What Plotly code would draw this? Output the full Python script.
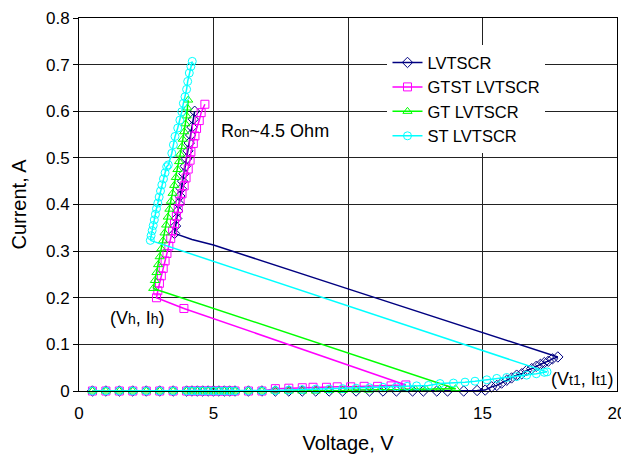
import plotly.graph_objects as go

# ---------------- data ----------------
common_v = [0.5, 1.0, 1.5, 2.0, 2.5, 3.0, 3.5, 4.0, 4.2, 4.4, 4.6, 4.8, 5.0, 5.2, 5.4, 5.6, 5.8, 6.3, 6.8]
common_i = [0.0] * len(common_v)

# LVTSCR
lv_leak_v = common_v + [7.3, 7.8, 8.3, 8.8, 9.3, 9.8, 10.3, 10.8, 11.3, 11.8, 12.4, 12.8, 13.3, 13.7, 14.3, 14.8,
                        15.1, 15.34, 15.53, 15.71, 15.9, 16.08, 16.27, 16.46, 16.64, 16.83, 17.0, 17.15, 17.3, 17.45, 17.6, 17.8]
lv_leak_i = common_i + [0.0, 0.0, 0.0, 0.0, 0.0, 0.0, 0.0, 0.0, 0.0, 0.0, 0.0, 0.0, 0.0, 0.0, 0.0, 0.001,
                        0.002, 0.009, 0.012, 0.017, 0.023, 0.028, 0.034, 0.037, 0.044, 0.048, 0.053, 0.057, 0.061, 0.064, 0.069, 0.073]
lv_snap_v = [17.8, 15.0, 10.0, 5.0, 4.2, 3.55]
lv_snap_i = [0.073, 0.125, 0.219, 0.313, 0.325, 0.338]
lv_on_v = [3.55, 3.59, 3.63, 3.67, 3.71, 3.75, 3.80, 3.85, 3.90, 3.95, 4.00, 4.05, 4.10, 4.15, 4.20, 4.25, 4.30]
lv_on_i = [0.338, 0.354, 0.370, 0.386, 0.402, 0.418, 0.434, 0.450, 0.466, 0.482, 0.498, 0.515, 0.532, 0.549, 0.566, 0.583, 0.600]

# GTST LVTSCR
gtst_leak_v = common_v + [7.3, 7.8, 8.3, 8.7, 9.2, 9.6, 10.1, 10.6, 11.1, 11.6, 12.15]
gtst_leak_i = common_i + [0.005, 0.006, 0.007, 0.008, 0.008, 0.009, 0.009, 0.010, 0.010, 0.011, 0.013]
gtst_snap_v = [12.15, 3.9]
gtst_snap_i = [0.013, 0.177]
gtst_on_v = [3.9, 2.88, 2.93, 2.99, 3.06, 3.13, 3.20, 3.27, 3.34, 3.41, 3.48, 3.55, 3.62, 3.69, 3.76, 3.83, 3.91, 3.98, 4.06, 4.13,
             4.16, 4.25, 4.31, 4.37, 4.47, 4.54, 4.68]
gtst_on_i = [0.177, 0.200, 0.215, 0.231, 0.247, 0.263, 0.279, 0.295, 0.311, 0.327, 0.343, 0.359, 0.375, 0.391, 0.407, 0.423, 0.440, 0.457, 0.476, 0.495,
             0.513, 0.531, 0.547, 0.563, 0.580, 0.597, 0.615]

# GT LVTSCR
gt_leak_v = common_v + [7.3, 7.8, 8.3, 8.8, 9.3, 9.8, 10.3, 10.76, 11.2, 11.6, 12.06, 12.5, 12.9, 13.4, 14.0]
gt_leak_i = common_i + [0.0, 0.0, 0.0, 0.0, 0.001, 0.001, 0.002, 0.002, 0.003, 0.003, 0.003, 0.004, 0.004, 0.004, 0.005]
gt_snap_v = [14.0, 2.76]
gt_snap_i = [0.005, 0.220]
gt_on_v = [2.76, 2.82, 2.88, 2.94, 3.00, 3.06, 3.12, 3.18, 3.24, 3.30, 3.36, 3.42, 3.48, 3.54, 3.60, 3.66, 3.72,
           3.76, 3.82, 3.86, 3.91, 3.96, 4.00, 4.03, 4.06]
gt_on_i = [0.220, 0.237, 0.254, 0.271, 0.288, 0.305, 0.322, 0.339, 0.356, 0.373, 0.390, 0.407, 0.424, 0.441, 0.458, 0.475, 0.492,
           0.508, 0.524, 0.540, 0.556, 0.573, 0.590, 0.607, 0.624]

# ST LVTSCR
st_leak_v = common_v + [7.3, 7.8, 8.3, 8.8, 9.3, 9.8, 10.3, 10.8, 11.3, 11.8, 12.2, 12.55, 12.99, 13.42, 13.92, 14.35, 14.72,
                        15.16, 15.53, 15.9, 16.27, 16.64, 17.0, 17.3, 17.4]
st_leak_i = common_i + [0.001, 0.002, 0.003, 0.004, 0.004, 0.005, 0.006, 0.007, 0.008, 0.009, 0.010, 0.011, 0.012, 0.016, 0.017, 0.019, 0.021,
                        0.024, 0.027, 0.029, 0.031, 0.034, 0.037, 0.040, 0.041]
st_snap_v = [17.4, 2.65]
st_snap_i = [0.041, 0.323]
st_on_v = [2.65, 2.68, 2.72, 2.76, 2.80, 2.84, 2.88, 2.93, 2.98, 3.03, 3.08, 3.14, 3.20, 3.26,
           3.32, 3.45, 3.51, 3.57, 3.67, 3.75, 3.82, 3.88, 3.94, 4.00, 4.04, 4.10, 4.16, 4.21]
st_on_i = [0.323, 0.333, 0.344, 0.355, 0.367, 0.379, 0.391, 0.403, 0.416, 0.429, 0.442, 0.455, 0.468, 0.481,
           0.485, 0.510, 0.528, 0.546, 0.564, 0.581, 0.599, 0.617, 0.631, 0.647, 0.664, 0.682, 0.696, 0.707]

series_names = ["LVTSCR", "GTST LVTSCR", "GT LVTSCR", "ST LVTSCR"]
x_ticks = [0, 5, 10, 15, 20]
y_ticks = [0, 0.1, 0.2, 0.3, 0.4, 0.5, 0.6, 0.7, 0.8]

# ---------------- figure ----------------
FONT = "Liberation Sans, Arial, sans-serif"
series = [
    (series_names[0], "#000080", "diamond-open", lv_leak_v, lv_leak_i, lv_snap_v, lv_snap_i, lv_on_v, lv_on_i),
    (series_names[1], "#FF00FF", "square-open", gtst_leak_v, gtst_leak_i, gtst_snap_v, gtst_snap_i, gtst_on_v, gtst_on_i),
    (series_names[2], "#00FF00", "triangle-up-open", gt_leak_v, gt_leak_i, gt_snap_v, gt_snap_i, gt_on_v, gt_on_i),
    (series_names[3], "#00FFFF", "circle-open", st_leak_v, st_leak_i, st_snap_v, st_snap_i, st_on_v, st_on_i),
]

fig = go.Figure()
for name, color, sym, lvx, lvy, sx, sy, ox, oy in series:
    mk = dict(symbol=sym, size=8, color=color, line=dict(color=color, width=1))
    fig.add_trace(go.Scatter(x=lvx, y=lvy, mode="lines+markers", name=name, legendgroup=name,
                             line=dict(color=color, width=1.5), marker=mk, cliponaxis=False))
    fig.add_trace(go.Scatter(x=sx, y=sy, mode="lines", name=name, legendgroup=name, showlegend=False,
                             line=dict(color=color, width=1.5), cliponaxis=False))
    fig.add_trace(go.Scatter(x=ox, y=oy, mode="lines+markers", name=name, legendgroup=name, showlegend=False,
                             line=dict(color=color, width=1.5), marker=mk, cliponaxis=False))

SUB = "<span style='font-size:14px'>%s</span>"
ann_font = dict(family=FONT, size=18, color="black")
fig.add_annotation(x=5.2, y=0.558, xref="x", yref="y", xanchor="left", yanchor="middle", showarrow=False,
                   text="R" + SUB % "on" + "~4.5 Ohm", font=ann_font)
fig.add_annotation(x=1.08, y=0.156, xref="x", yref="y", xanchor="left", yanchor="middle", showarrow=False,
                   text="(V" + SUB % "h" + ", I" + SUB % "h" + ")", font=ann_font)
fig.add_annotation(x=17.47, y=0.025, xref="x", yref="y", xanchor="left", yanchor="middle", showarrow=False,
                   text="(V" + SUB % "t1" + ", I" + SUB % "t1" + ")", font=ann_font)

# The page body adds an 8px offset; the figure is sized/margined to compensate.
fig.update_layout(
    template="none",
    width=621, height=446,
    margin=dict(l=71, r=12, t=10, b=63, autoexpand=False),
    paper_bgcolor="white", plot_bgcolor="white",
    font=dict(family=FONT, size=17, color="black"),
    showlegend=True,
    legend=dict(x=0.5734, y=0.927, xanchor="left", yanchor="top", bgcolor="white",
                font=dict(family=FONT, size=16.5, color="black"), traceorder="grouped", tracegroupgap=0,
                borderwidth=0),
    xaxis=dict(range=[0, 20], tickvals=x_ticks, ticktext=[str(v) for v in x_ticks], showgrid=True,
               gridcolor="#222222", gridwidth=1, zeroline=False, showline=True, linecolor="black",
               linewidth=1, mirror=True, ticks="", tickfont=dict(size=17), automargin=False,
               ticklabelstandoff=7,
               title=dict(text="Voltage, V", font=dict(size=20), standoff=28)),
    yaxis=dict(range=[0, 0.8], tickvals=y_ticks, ticktext=[("%g" % v) for v in y_ticks], showgrid=True,
               gridcolor="#222222", gridwidth=1, zeroline=False, showline=True, linecolor="black",
               linewidth=1, mirror=True, ticks="outside", ticklen=5, tickcolor="black",
               tickfont=dict(size=17), automargin=False,
               title=dict(text="Current, A", font=dict(size=20), standoff=18)),
)

fig.write_html("out.html")
